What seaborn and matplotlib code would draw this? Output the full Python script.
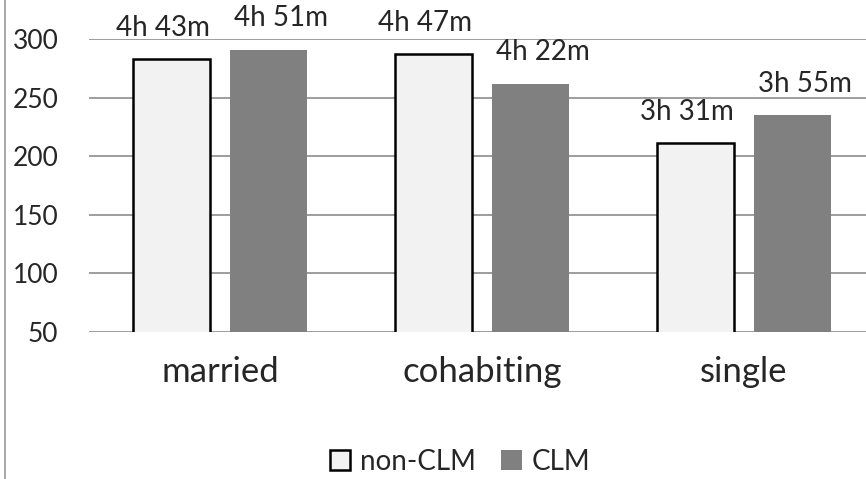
import matplotlib
matplotlib.use("Agg")
import matplotlib.pyplot as plt
import seaborn as sns
import pandas as pd
from matplotlib.lines import Line2D

# minutes per day
categories = ["married", "cohabiting", "single"]
groups = ["non-CLM", "CLM"]
non_clm = [283, 287, 211]
clm = [291, 262, 235]
y_ticks = [50, 100, 150, 200, 250, 300]

df = pd.DataFrame({
    "status": categories * 2,
    "group": ["non-CLM"] * 3 + ["CLM"] * 3,
    "minutes": non_clm + clm,
})

sns.set_style("white")
plt.rcParams["font.family"] = ["Lato", "DejaVu Sans"]

fig = plt.figure(figsize=(8.66, 4.79), dpi=100)
ax = fig.add_axes([89 / 866, 147 / 479, 777 / 866, 293 / 479])

palette = {"non-CLM": "#f2f2f2", "CLM": "#808080"}
sns.barplot(data=df, x="status", y="minutes", hue="group", order=categories,
            hue_order=groups, palette=palette, width=0.74, gap=0.2,
            saturation=1, ax=ax, legend=False, zorder=3)

for p in ax.containers[0].patches:
    p.set_edgecolor("black")
    p.set_linewidth(1.8)
for p in ax.containers[1].patches:
    p.set_edgecolor("none")

# labels sit a little off-centre, like the excel original
shifts = [-6, 9]
for cont, vals, dx in zip(ax.containers, [non_clm, clm], shifts):
    labels = [f"{v // 60}h {v % 60}m" for v in vals]
    for ann in ax.bar_label(cont, labels=labels, padding=13, fontsize=20):
        ann.xyann = (dx, 13)

ax.set_ylim(50, 300)
ax.set_xlim(-0.5, 2.466)
ax.set_yticks(y_ticks)
ax.grid(axis="y", color="#8c8c8c", linewidth=1.2, zorder=0)
ax.grid(axis="x", visible=False)
for s in ax.spines.values():
    s.set_visible(False)
ax.tick_params(axis="y", length=0, pad=22, labelsize=19)
ax.tick_params(axis="x", length=0, pad=17, labelsize=25)
ax.set_xlabel("")
ax.set_ylabel("")

ax.legend(ax.containers, groups, loc="center", bbox_to_anchor=(0.531, 0.036),
          bbox_transform=fig.transFigure, ncol=2, frameon=False, fontsize=20,
          handlelength=0.75, handleheight=0.75, handletextpad=0.35,
          columnspacing=0.9)

# chart border on the left
fig.add_artist(Line2D([5 / 866, 5 / 866], [0, 1], color="#9a9a9a", linewidth=1.2))

fig.savefig("out.png", dpi=100)
